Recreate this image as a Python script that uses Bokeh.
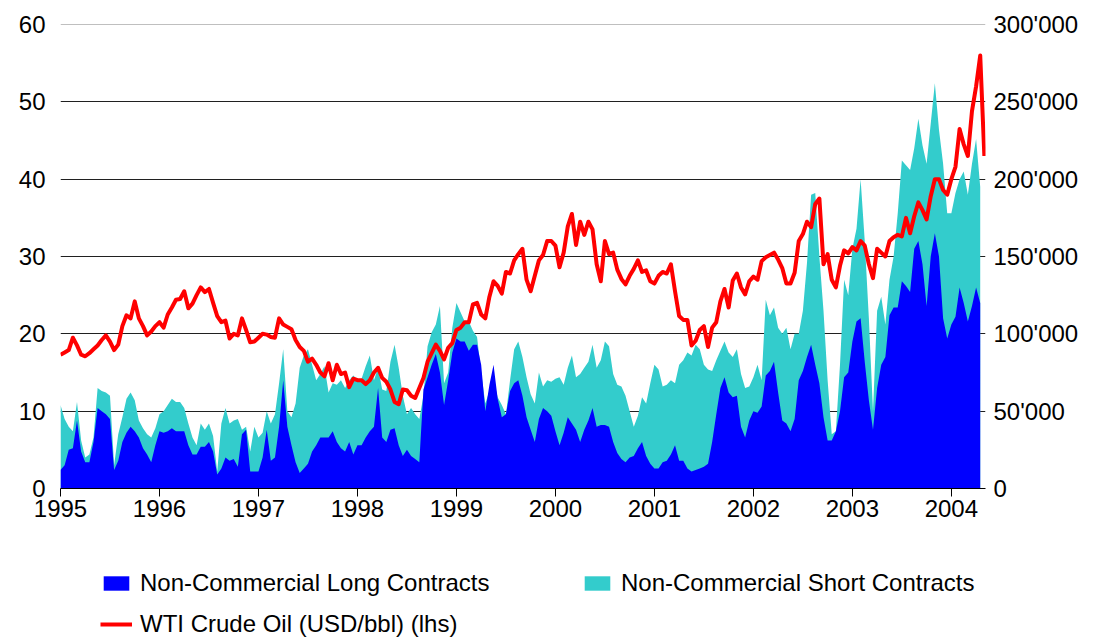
import numpy as np
from bokeh.plotting import figure
from bokeh.layouts import column
from bokeh.models import (Range1d, LinearAxis, FixedTicker, CustomJSTickFormatter,
                          Legend, LegendItem, Span)
from bokeh.embed import file_html
from bokeh.resources import INLINE

# semi-monthly observations starting Jan 1995
start_year = 1995.0
obs_per_year = 24

# WTI crude oil, USD/bbl (left axis)
wti = [
    17.3, 17.6, 17.9, 19.5, 18.5, 17.3, 17.1, 17.5, 18.0, 18.5,
    19.2, 19.8, 19.0, 17.9, 18.6, 21.0, 22.4, 22.0, 24.2, 22.0,
    21.0, 19.8, 20.3, 21.0, 21.5, 20.8, 22.5, 23.4, 24.4, 24.5,
    25.5, 23.3, 23.9, 25.0, 26.0, 25.4, 25.8, 24.0, 22.3, 21.5,
    21.7, 19.4, 20.0, 19.8, 22.0, 20.5, 18.9, 19.0, 19.5, 20.0,
    19.9, 19.6, 19.5, 22.0, 21.2, 20.9, 20.6, 19.2, 18.3, 17.8,
    16.4, 16.8, 16.0, 15.0, 14.5, 16.2, 14.0, 16.0, 14.8, 15.0,
    13.1, 14.2, 14.0, 14.0, 13.5, 14.0, 15.0, 15.6, 14.3, 13.8,
    12.8, 11.2, 10.9, 12.8, 12.7, 12.0, 11.7, 13.0, 14.3, 16.4,
    17.5, 18.6, 17.8, 16.7, 18.2, 18.8, 20.5, 20.8, 21.5, 21.5,
    23.8, 24.0, 22.5, 22.0, 24.8, 26.8, 26.2, 25.2, 28.0, 27.8,
    29.5, 30.3, 31.0, 27.0, 25.5, 27.5, 29.5, 30.2, 32.0, 32.0,
    31.4, 28.6, 30.5, 33.9, 35.5, 31.5, 34.5, 32.8, 34.5, 33.5,
    29.0, 26.8, 32.0, 30.3, 30.5, 28.3, 27.1, 26.4, 27.5, 28.4,
    29.5, 28.0, 28.2, 26.8, 26.5, 27.5, 28.0, 27.8, 29.0, 25.5,
    22.3, 21.8, 21.8, 18.5, 19.1, 20.5, 21.0, 18.3, 20.8, 21.5,
    24.2, 25.8, 23.4, 26.9, 27.8, 26.0, 25.1, 26.8, 27.4, 27.0,
    29.4, 29.9, 30.2, 30.5, 29.6, 28.5, 26.5, 26.5, 27.9, 32.0,
    32.9, 34.5, 33.8, 36.8, 37.5, 29.0, 30.3, 27.0, 26.0, 28.8,
    30.8, 30.4, 31.2, 30.8, 32.0, 31.4, 29.0, 27.2, 31.0, 30.5,
    30.0, 32.0, 32.5, 32.8, 32.6, 35.0, 33.0, 35.2, 37.0, 36.0,
    34.8, 37.8, 40.0, 40.0, 38.6, 38.0, 40.0, 41.6, 46.5, 44.5,
    43.0, 48.8, 52.0, 56.0, 43.0,
]

# Non-commercial short contracts, thousands (right axis)
short_k = [
    54, 45, 40, 37, 56, 31, 20, 22, 33, 65,
    63, 62, 60, 15, 35, 46, 58, 62, 57, 44,
    39, 35, 33, 39, 48, 50, 54, 58, 56, 56,
    52, 42, 33, 28, 42, 38, 42, 34, 11, 42,
    52, 42, 44, 45, 38, 40, 24, 40, 33, 36,
    50, 42, 48, 68, 90, 50, 46, 55, 78, 86,
    90, 80, 70, 74, 79, 62, 68, 67, 70, 65,
    70, 73, 70, 71, 79, 86, 70, 78, 64, 63,
    82, 93, 78, 60, 48, 52, 48, 45, 60, 92,
    101, 106, 118, 68, 75, 104, 120, 114, 108, 108,
    102, 98, 75, 55, 63, 70, 59, 54, 48, 70,
    90, 95, 85, 72, 61, 55, 75, 66, 70, 69,
    71, 72, 67, 78, 86, 72, 74, 78, 82, 93,
    78, 83, 95, 92, 74, 67, 66, 60, 50, 40,
    47, 59, 55, 68, 80, 77, 66, 67, 70, 68,
    80, 83, 88, 86, 93, 90, 80, 77, 76, 83,
    89, 95, 88, 85, 90, 74, 65, 66, 72, 80,
    70, 122, 112, 117, 104, 100, 104, 90, 100, 100,
    115, 146, 190, 191, 150, 115, 70, 35, 37, 80,
    135, 125, 155, 168, 200, 160, 110, 50, 115, 124,
    106, 135, 150, 178, 212, 209, 206, 220, 239, 222,
    210, 236, 262, 232, 210, 178, 178, 191, 200, 205,
    190, 210, 226, 195,
]

# Non-commercial long contracts, thousands (right axis)
long_k = [
    12, 15, 25, 26, 44, 24, 17, 17, 30, 52,
    50, 48, 45, 12, 18, 30, 36, 40, 37, 33,
    26, 22, 17, 28, 37, 36, 37, 39, 37, 37,
    37, 28, 22, 22, 27, 27, 30, 24, 9, 13,
    20, 18, 19, 14, 35, 38, 11, 11, 11, 20,
    38, 18, 20, 40, 70, 40, 28, 17, 10, 13,
    16, 24, 28, 33, 33, 33, 37, 30, 26, 24,
    30, 22, 28, 28, 33, 37, 40, 65, 33, 30,
    38, 39, 28, 21, 25, 21, 19, 17, 64, 72,
    80, 87, 75, 54, 70, 88, 97, 95, 95, 89,
    93, 93, 80, 50, 67, 80, 58, 46, 48, 63,
    68, 70, 60, 46, 38, 30, 45, 52, 50, 47,
    37, 28, 36, 46, 42, 38, 30, 38, 44, 52,
    40, 41, 41, 40, 30, 23, 19, 17, 20, 21,
    26, 30, 21, 16, 13, 13, 17, 18, 22, 28,
    18, 18, 13, 11, 12, 13, 14, 16, 30, 48,
    65, 72, 62, 59, 60, 40, 33, 44, 50, 49,
    53, 73, 76, 82, 62, 44, 42, 37, 45, 70,
    76, 85, 93, 80, 68, 46, 31, 31, 37, 50,
    72, 75, 95, 108, 110, 82, 57, 38, 65, 80,
    85, 112, 117, 117, 134, 131, 127, 155, 160, 145,
    118, 150, 165, 150, 110, 97, 106, 111, 130, 120,
    108, 118, 130, 120,
]

year_ticks = list(range(1995, 2005))
left_ticks = [0, 10, 20, 30, 40, 50, 60]
right_ticks = [0, 50, 100, 150, 200, 250, 300]

t_wti = [start_year + i / obs_per_year for i in range(len(wti))]
t_short = [start_year + i / obs_per_year for i in range(len(short_k))]
t_long = [start_year + i / obs_per_year for i in range(len(long_k))]

FONT = "Liberation Sans"
BLUE = "#0000FF"
CYAN = "#33CCCC"
RED = "#FF0000"
W = 1100

p = figure(width=W, height=528, output_backend="svg", toolbar_location=None,
           x_range=Range1d(1995, 2004.345), y_range=Range1d(0, 60),
           min_border_left=60, min_border_right=W - 985, min_border_top=24,
           min_border_bottom=40)
p.extra_y_ranges = {"contracts": Range1d(0, 300)}
p.outline_line_color = None

r_short = p.varea(x=t_short, y1=0, y2=short_k, fill_color=CYAN, y_range_name="contracts")
r_long = p.varea(x=t_long, y1=0, y2=long_k, fill_color=BLUE, y_range_name="contracts")
r_wti = p.line(x=t_wti, y=wti, line_color=RED, line_width=4, line_join="round")

# grid
p.xgrid.visible = False
p.ygrid.ticker = FixedTicker(ticks=[10, 20, 30, 40, 50])
p.ygrid.grid_line_color = "#202020"
p.ygrid.grid_line_width = 1
p.add_layout(Span(location=60, dimension="width", line_color="#808080", line_width=1))

# axes
xa = p.xaxis[0]
xa.ticker = FixedTicker(ticks=year_ticks)
xa.axis_line_color = "black"
xa.major_tick_line_color = "black"
xa.major_tick_out = 8
xa.major_tick_in = 0
xa.minor_tick_line_color = None
xa.major_label_standoff = 3
xa.major_label_text_font = FONT
xa.major_label_text_font_size = "24px"
xa.major_label_text_color = "black"

ya = p.yaxis[0]
ya.ticker = FixedTicker(ticks=left_ticks)
ya.axis_line_color = None
ya.major_tick_line_color = None
ya.minor_tick_line_color = None
ya.major_tick_out = 0
ya.major_tick_in = 0
ya.major_label_standoff = 15
ya.major_label_text_font = FONT
ya.major_label_text_font_size = "24px"
ya.major_label_text_color = "black"

ra = LinearAxis(y_range_name="contracts")
ra.ticker = FixedTicker(ticks=right_ticks)
ra.formatter = CustomJSTickFormatter(code="return tick == 0 ? '0' : tick.toFixed(0) + \"'000\";")
ra.axis_line_color = None
ra.major_tick_line_color = None
ra.minor_tick_line_color = None
ra.major_tick_out = 0
ra.major_tick_in = 0
ra.major_label_standoff = 8
ra.major_label_text_font = FONT
ra.major_label_text_font_size = "24px"
ra.major_label_text_color = "black"
p.add_layout(ra, "right")

# legend panel (separate figure below the chart; its frame aligns with the chart frame)
q = figure(width=W, height=112, output_backend="svg", toolbar_location=None,
           x_range=Range1d(0, 1), y_range=Range1d(0, 1),
           min_border_left=60, min_border_right=W - 985, min_border_top=0, min_border_bottom=0)
q.axis.visible = False
q.grid.visible = False
q.outline_line_color = None
# off-range stand-ins that only provide legend swatches
d_long = q.varea(x=[2, 3], y1=[2, 2], y2=[3, 3], fill_color=BLUE)
d_short = q.varea(x=[2, 3], y1=[2, 2], y2=[3, 3], fill_color=CYAN)
d_wti = q.line(x=[2, 3], y=[2, 2], line_color=RED, line_width=4)

def make_legend(label, renderer, loc):
    return Legend(items=[LegendItem(label=label, renderers=[renderer])], location=loc,
                  border_line_color=None, background_fill_alpha=0, padding=0, margin=0,
                  glyph_width=32, glyph_height=18, label_standoff=8,
                  label_text_font=FONT, label_text_font_size="24px",
                  label_text_color="black", label_height=24)

q.add_layout(make_legend("Non-Commercial Long Contracts", d_long, (40, 43)))
q.add_layout(make_legend("Non-Commercial Short Contracts", d_short, (521, 43)))
q.add_layout(make_legend("WTI Crude Oil (USD/bbl) (lhs)", d_wti, (40, 2)))

open("out.html", "w").write(file_html(column(p, q, spacing=0), INLINE))
